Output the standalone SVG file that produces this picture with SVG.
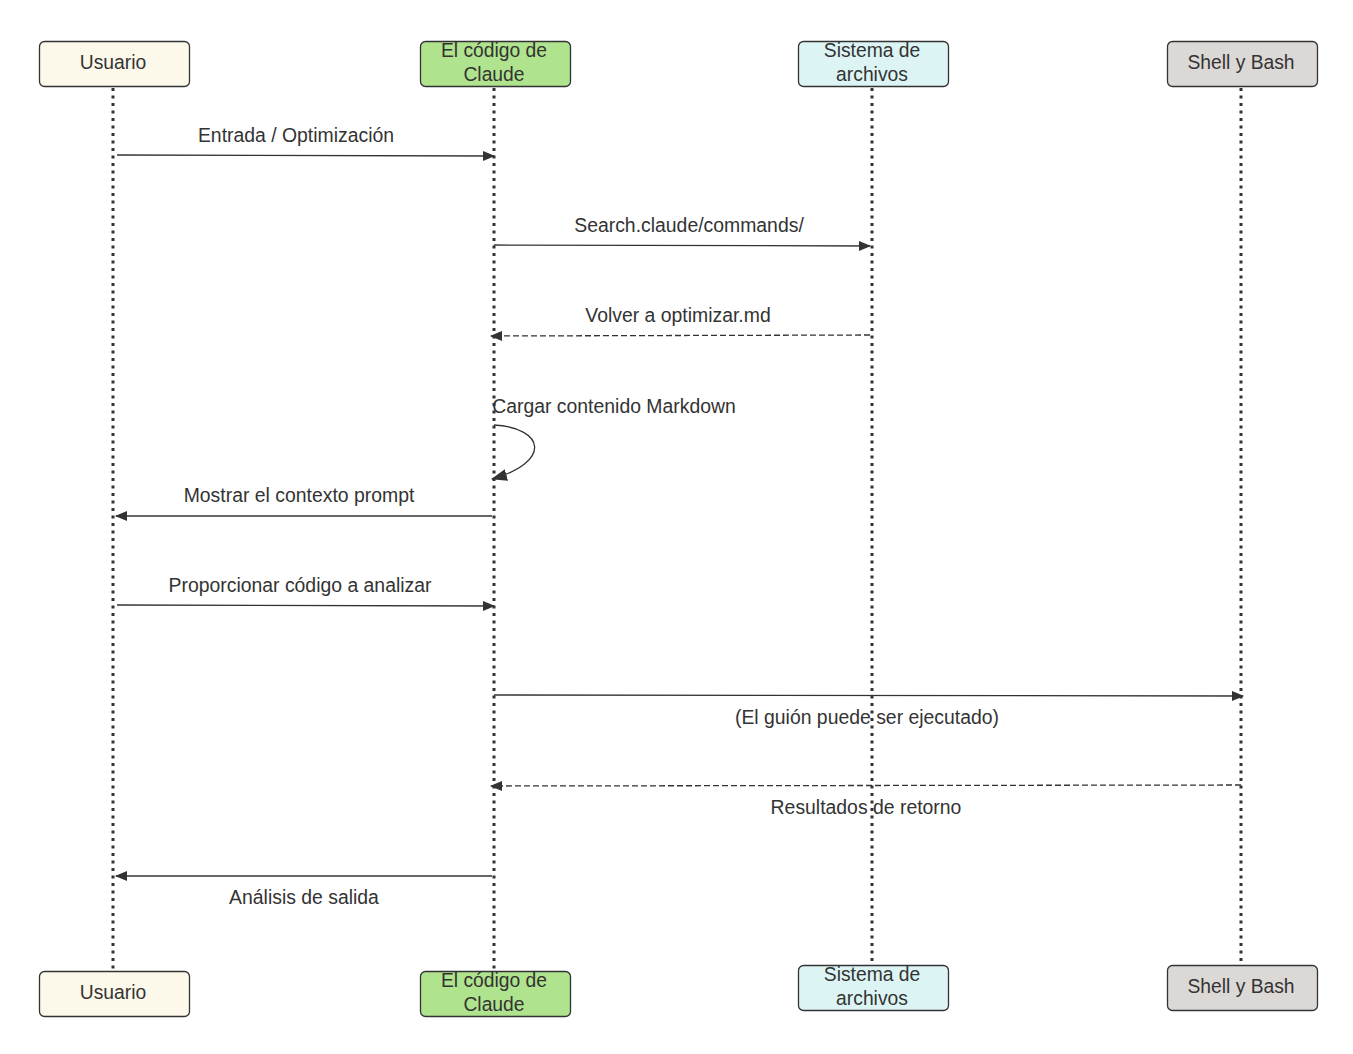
<svg xmlns="http://www.w3.org/2000/svg" width="1353" height="1054" viewBox="0 0 1353 1054">
<style>
.actor{stroke:#333;stroke-width:1.3}
.lt{font-family:"Liberation Sans",Arial,sans-serif;font-size:19.3px;fill:#333;text-anchor:middle}
.life{stroke:#333;stroke-width:3;stroke-dasharray:3 4.5;fill:none}
.msg{stroke:#333;stroke-width:1.3;fill:none}
.dash{stroke-dasharray:6 3}
.ml{font-family:"Liberation Sans",Arial,sans-serif;font-size:19.4px;fill:#333;text-anchor:middle}
</style>
<defs>
<marker id="ah" viewBox="0 0 12 10" refX="11" refY="5" markerWidth="12" markerHeight="10" markerUnits="userSpaceOnUse" orient="auto">
<path d="M0,0 L12,5 L0,10 z" fill="#333"/>
</marker>
<marker id="ahl" viewBox="0 0 16 12" refX="15" refY="6" markerWidth="16" markerHeight="12" markerUnits="userSpaceOnUse" orient="auto">
<path d="M0,0 L16,6 L0,12 z" fill="#333"/>
</marker>
</defs>
<rect width="1353" height="1054" fill="#fff"/>
<g id="lifelines">
<line class="life" x1="113" y1="88" x2="113" y2="970"/>
<line class="life" x1="494" y1="88" x2="494" y2="970"/>
<line class="life" x1="872" y1="88" x2="872" y2="964"/>
<line class="life" x1="1241" y1="88" x2="1241" y2="964"/>
</g>
<g id="usuario-top"><rect class="actor" x="39.5" y="41.5" width="150" height="45" rx="5" fill="#fcf8ea"/><text class="lt" x="113" y="69">Usuario</text></g>
<g id="claude-top"><rect class="actor" x="420.5" y="41.5" width="150" height="45" rx="5" fill="#b0e38d"/><text class="lt" x="494" y="57">El código de</text><text class="lt" x="494" y="81">Claude</text></g>
<g id="fs-top"><rect class="actor" x="798.5" y="41.5" width="150" height="45" rx="5" fill="#dcf5f4"/><text class="lt" x="872" y="57">Sistema de</text><text class="lt" x="872" y="81">archivos</text></g>
<g id="shell-top"><rect class="actor" x="1167.5" y="41.5" width="150" height="45" rx="5" fill="#dcd8d6"/><text class="lt" x="1241" y="69">Shell y Bash</text></g>
<g id="usuario-bottom"><rect class="actor" x="39.5" y="971.5" width="150" height="45" rx="5" fill="#fcf8ea"/><text class="lt" x="113" y="999">Usuario</text></g>
<g id="claude-bottom"><rect class="actor" x="420.5" y="971.5" width="150" height="45" rx="5" fill="#b0e38d"/><text class="lt" x="494" y="987">El código de</text><text class="lt" x="494" y="1011">Claude</text></g>
<g id="fs-bottom"><rect class="actor" x="798.5" y="965.5" width="150" height="45" rx="5" fill="#dcf5f4"/><text class="lt" x="872" y="981">Sistema de</text><text class="lt" x="872" y="1005">archivos</text></g>
<g id="shell-bottom"><rect class="actor" x="1167.5" y="965.5" width="150" height="45" rx="5" fill="#dcd8d6"/><text class="lt" x="1241" y="993">Shell y Bash</text></g>
<g id="connectors">
<line class="msg" x1="117" y1="155" x2="494" y2="156" marker-end="url(#ah)"/>
<text class="ml" x="296" y="142">Entrada / Optimización</text>
<line class="msg" x1="494" y1="245" x2="870" y2="246" marker-end="url(#ah)"/>
<text class="ml" x="689" y="232">Search.claude/commands/</text>
<line class="msg dash" x1="870" y1="335" x2="491" y2="336" marker-end="url(#ah)"/>
<text class="ml" x="678" y="322">Volver a optimizar.md</text>
<text class="ml" x="614" y="413">Cargar contenido Markdown</text>
<path class="msg" d="M494,425 C545,428 552,462 492,479" marker-end="url(#ahl)"/>
<line class="msg" x1="492" y1="516" x2="116" y2="516" marker-end="url(#ah)"/>
<text class="ml" x="299" y="502">Mostrar el contexto prompt</text>
<line class="msg" x1="117" y1="605" x2="494" y2="606" marker-end="url(#ah)"/>
<text class="ml" x="300" y="592">Proporcionar código a analizar</text>
<line class="msg" x1="494" y1="695" x2="1243" y2="696" marker-end="url(#ah)"/>
<text class="ml" x="867" y="724">(El guión puede ser ejecutado)</text>
<line class="msg dash" x1="1241" y1="785" x2="491" y2="786" marker-end="url(#ah)"/>
<text class="ml" x="866" y="814">Resultados de retorno</text>
<line class="msg" x1="492" y1="876" x2="116" y2="876" marker-end="url(#ah)"/>
<text class="ml" x="304" y="904">Análisis de salida</text>
</g>
</svg>
